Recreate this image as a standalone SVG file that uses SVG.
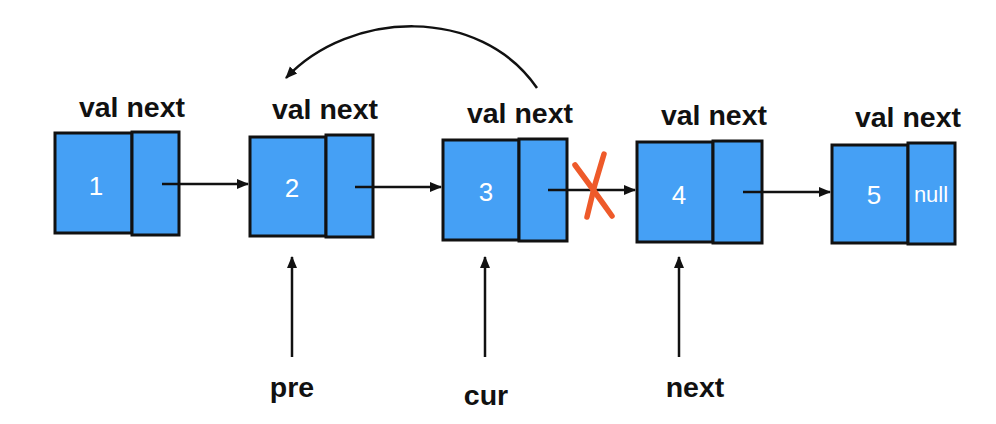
<svg xmlns="http://www.w3.org/2000/svg" width="996" height="424" viewBox="0 0 996 424">
<defs>
<style>
.box{fill:#45a0f5;stroke:#111;stroke-width:3}
.lbl{font-family:"Liberation Sans",Arial,sans-serif;font-weight:bold;font-size:28.5px;fill:#111;text-anchor:middle}
.num{font-family:"Liberation Sans",Arial,sans-serif;font-size:26px;fill:#fff;text-anchor:middle}
.nul{font-family:"Liberation Sans",Arial,sans-serif;font-size:22px;fill:#fff;text-anchor:middle}
.ln{fill:none;stroke:#111;stroke-width:2.5}
.x{fill:none;stroke:#ee5a2a;stroke-width:5.5;stroke-linecap:round}
</style>
<marker id="ah" viewBox="0 0 12 12" refX="11" refY="6" markerWidth="12" markerHeight="12" markerUnits="userSpaceOnUse" orient="auto">
<path d="M0,1 L12,6 L0,11 Z" fill="#111"/>
</marker>
</defs>
<rect width="996" height="424" fill="#fff"/>
<g id="node1">
<text class="lbl" x="132" y="117">val next</text>
<rect class="box" x="55" y="133" width="77" height="100"/>
<rect class="box" x="132" y="132" width="47" height="103"/>
<text class="num" x="96" y="195">1</text>
</g>
<g id="node2">
<text class="lbl" x="325" y="119">val next</text>
<rect class="box" x="250" y="137" width="76" height="99"/>
<rect class="box" x="326" y="135" width="47" height="102"/>
<text class="num" x="292" y="197">2</text>
</g>
<g id="node3">
<text class="lbl" x="520" y="123">val next</text>
<rect class="box" x="443" y="140" width="76" height="100"/>
<rect class="box" x="519" y="139" width="48" height="102"/>
<text class="num" x="486" y="201">3</text>
</g>
<g id="node4">
<text class="lbl" x="714" y="125">val next</text>
<rect class="box" x="637" y="142" width="76" height="100"/>
<rect class="box" x="713" y="141" width="49" height="102"/>
<text class="num" x="679" y="204">4</text>
</g>
<g id="node5">
<text class="lbl" x="908" y="127">val next</text>
<rect class="box" x="832" y="145" width="76" height="98"/>
<rect class="box" x="908" y="143" width="47" height="101"/>
<text class="num" x="874" y="204">5</text>
<text class="nul" x="931" y="202">null</text>
</g>
<g id="pointers">
<text class="lbl" x="292" y="397">pre</text>
<text class="lbl" x="486" y="405">cur</text>
<text class="lbl" x="695" y="397">next</text>
</g>
<g id="connectors">
<line class="ln" x1="162" y1="184" x2="248" y2="184" marker-end="url(#ah)"/>
<line class="ln" x1="355" y1="187" x2="441" y2="187" marker-end="url(#ah)"/>
<line class="ln" x1="548" y1="190" x2="635" y2="190" marker-end="url(#ah)"/>
<line class="ln" x1="743" y1="192" x2="830" y2="192" marker-end="url(#ah)"/>
<path class="ln" d="M537,88 C480,5 350,10 286,78" marker-end="url(#ah)"/>
<line class="ln" x1="292" y1="357" x2="292" y2="257" marker-end="url(#ah)"/>
<line class="ln" x1="485" y1="357" x2="485" y2="257" marker-end="url(#ah)"/>
<line class="ln" x1="679" y1="357" x2="679" y2="257" marker-end="url(#ah)"/>
<path class="x" d="M575,165 Q595,192 612,216"/>
<path class="x" d="M604,154 Q594,185 587,217"/>
</g>
</svg>
